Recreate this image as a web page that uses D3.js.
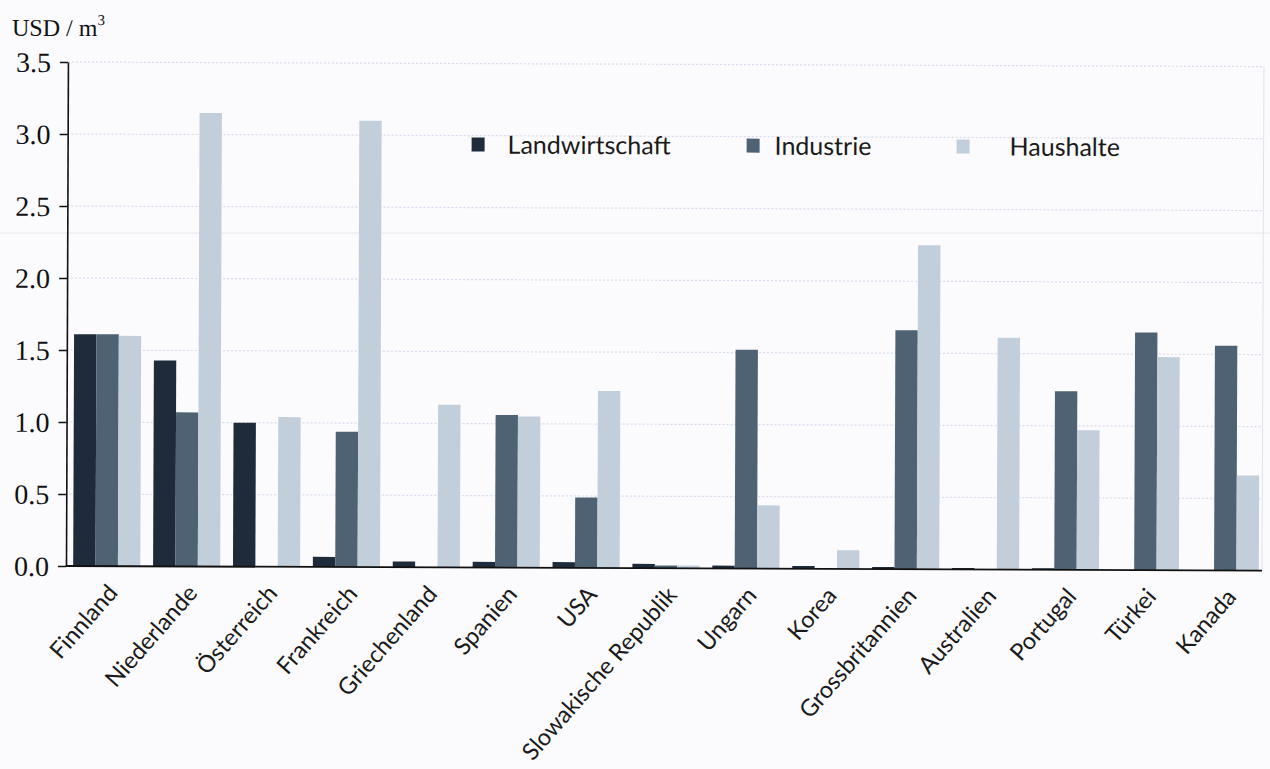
<!DOCTYPE html>
<html><head><meta charset="utf-8">
<script src="https://cdn.jsdelivr.net/npm/d3@7"></script>
<style>
html,body{margin:0;padding:0;background:#fbfbfd;}
svg{display:block;}
</style></head>
<body>
<svg id="chart" width="1270" height="769"></svg>
<script>
const categories = ["Finnland","Niederlande","Österreich","Frankreich","Griechenland","Spanien","USA","Slowakische Republik","Ungarn","Korea","Grossbritannien","Australien","Portugal","Türkei","Kanada"];
const seriesNames = ["Landwirtschaft","Industrie","Haushalte"];
const landwirtschaft = [1.61,1.43,1.00,0.07,0.04,0.04,0.04,0.03,0.02,0.02,0.015,0.01,0.01,0,0];
const industrie      = [1.61,1.07,0,0.94,0,1.06,0.49,0.02,1.52,0,1.66,0,1.24,1.65,1.56];
const haushalte      = [1.60,3.15,1.04,3.10,1.13,1.05,1.23,0.02,0.44,0.13,2.25,1.61,0.97,1.48,0.66];
const yTicks = [0,0.5,1.0,1.5,2.0,2.5,3.0,3.5];
const colors = ["#1f2a3b","#4e6273","#c3cedb"];

const root = d3.select("#chart");
const mLeft = 66, mRight = 1262, mTop = 62, mBottom = 566;

// scan artifact line
root.append("line").attr("x1",0).attr("x2",1270).attr("y1",233).attr("y2",233)
  .attr("stroke","#e6e6ee").attr("stroke-width",1);

// whole chart slightly tilted as in the scan
const svg = root.append("g").attr("transform", `rotate(0.22, ${mLeft}, ${mBottom})`);

const x = d3.scaleBand().domain(categories).range([mLeft, mLeft + 1200]).paddingInner(0.16).paddingOuter(0.09);
const xs = d3.scaleBand().domain(seriesNames).range([0, x.bandwidth()]);
const y = d3.scaleLinear().domain([0, 3.5]).range([mBottom, mTop]);

// gridlines
svg.append("g").selectAll("line").data(yTicks.filter(d=>d>0)).join("line")
  .attr("x1", mLeft).attr("x2", mRight)
  .attr("y1", d=>y(d)).attr("y2", d=>y(d))
  .attr("stroke","#d6daec").attr("stroke-width",1.2).attr("stroke-dasharray","2,2");
// right border
svg.append("line").attr("x1",mRight).attr("x2",mRight).attr("y1",mTop).attr("y2",mBottom)
  .attr("stroke","#dfe2ee").attr("stroke-width",1);

const data = [landwirtschaft, industrie, haushalte];
const g = svg.append("g");
categories.forEach((c, i) => {
  seriesNames.forEach((s, j) => {
    const v = data[j][i];
    if (v <= 0) return;
    g.append("rect")
      .attr("x", x(c) + xs(s))
      .attr("width", xs.bandwidth())
      .attr("y", y(v))
      .attr("height", y(0) - y(v))
      .attr("fill", colors[j]);
  });
});

// y axis
const yAxis = d3.axisLeft(y).tickValues(yTicks).tickFormat(d3.format(".1f")).tickSize(8).tickSizeOuter(0);
const ya = svg.append("g").attr("transform", `translate(${mLeft},0)`).call(yAxis);
ya.select(".domain").attr("stroke","#111").attr("stroke-width",1.6);
ya.selectAll(".tick line").attr("stroke","#111").attr("stroke-width",1.4);
ya.selectAll(".tick text").attr("x",-17).attr("dy","0.34em")
  .style("font-family","'Liberation Serif', 'DejaVu Serif', serif").style("font-size","28px").attr("fill","#111");

// x axis
const xAxis = d3.axisBottom(x).tickSize(0).tickSizeOuter(0);
const xa = svg.append("g").attr("transform", `translate(0,${mBottom})`).call(xAxis);
xa.select(".domain").attr("d", `M${mLeft},0H${mRight}`).attr("stroke","#111").attr("stroke-width",1.8);
xa.selectAll(".tick text")
  .attr("text-anchor","end")
  .attr("transform","translate(6,22) rotate(-49)")
  .attr("x",0).attr("y",0).attr("dy","0.35em")
  .style("font-family","Lato, 'Open Sans', sans-serif").style("font-size","23.5px").attr("fill","#1a1a1a");

// y title
const t = svg.append("text").attr("x",10).attr("y",36)
  .style("font-family","'Liberation Serif', serif").style("font-size","24px").attr("fill","#111");
t.append("tspan").text("USD / m");
t.append("tspan").text("3").attr("dy",-11).style("font-size","15px");

// legend
const legendPos = [{sx:470, tx:506},{sx:745, tx:773},{sx:955, tx:1008}];
const lg = svg.append("g");
seriesNames.forEach((s,j)=>{
  lg.append("rect").attr("x",legendPos[j].sx).attr("y",136).attr("width",13).attr("height",14).attr("fill",colors[j]);
  lg.append("text").attr("x",legendPos[j].tx).attr("y",152).text(s)
    .style("font-family","Lato, 'Open Sans', sans-serif").style("font-size","25px").attr("fill","#1a1a1a");
});
</script>
</body></html>
